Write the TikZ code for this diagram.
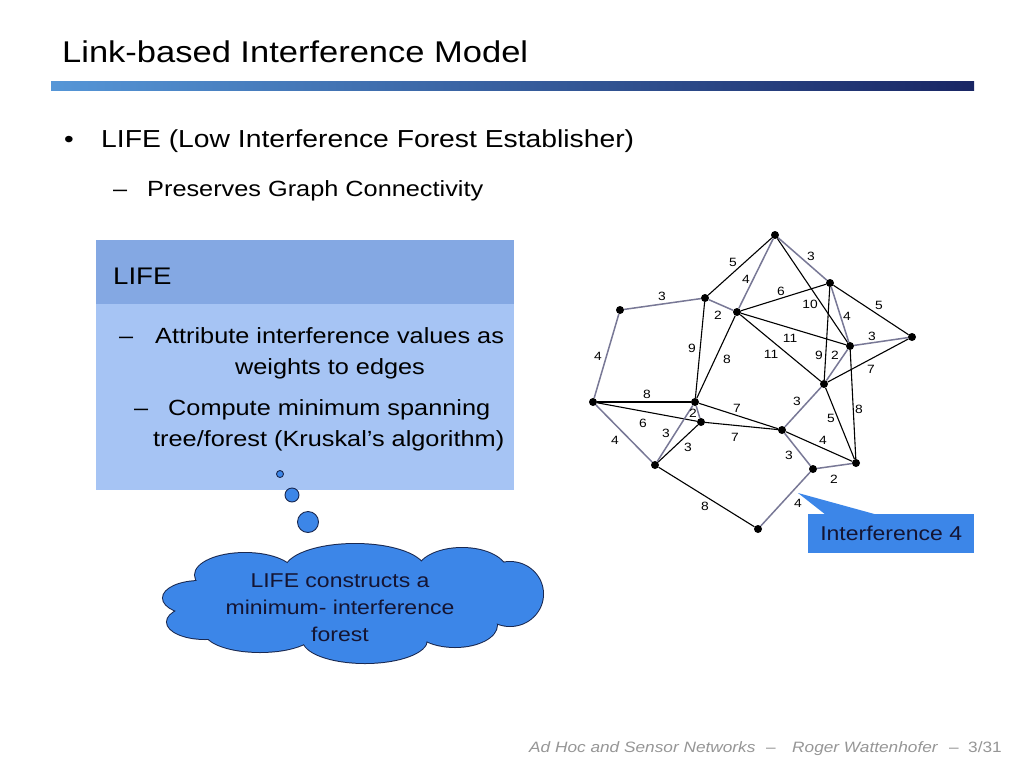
\documentclass[tikz,border=0pt]{standalone}
\usepackage{fontspec}
\setmainfont{Liberation Sans}[FakeStretch=1.15]
\definecolor{barL}{RGB}{85,150,215}
\definecolor{barR}{RGB}{25,38,100}
\definecolor{hdrc}{RGB}{132,168,227}
\definecolor{bodyc}{RGB}{166,196,244}
\definecolor{cloudc}{RGB}{60,134,232}
\definecolor{cloudline}{RGB}{25,40,80}
\definecolor{grayedge}{RGB}{120,120,150}
\definecolor{footc}{RGB}{150,150,150}
\definecolor{txtdark}{RGB}{20,20,50}
\begin{document}
\begin{tikzpicture}[x=1pt,y=-1pt,
  vtx/.style={circle,fill=black,inner sep=0,minimum size=8pt},
  blk/.style={draw=black,line width=1.1pt},
  gry/.style={draw=grayedge,line width=1.5pt},
  wl/.style={font=\fontsize{12}{12}\selectfont,inner sep=0},
  txt/.style={inner sep=0,anchor=base west},
  bubble/.style={circle,draw=cloudline,fill=cloudc,line width=0.9pt,inner sep=0}]
\useasboundingbox (0,0) rectangle (1024,768);
\fill[white] (0,0) rectangle (1024,768);
% title and bar
\node[txt,font=\fontsize{30}{36}\selectfont] (title) at (62,63) {Link-based Interference Model};
\shade[left color=barL,right color=barR] (51,81) rectangle (974,90);
\node[txt,font=\fontsize{24}{28}\selectfont] (bul) at (64,147) {•};
\node[txt,font=\fontsize{24.6}{28}\selectfont] (l1) at (101,147) {LIFE (Low Interference Forest Establisher)};
\node[txt,font=\fontsize{22}{26}\selectfont] (d1) at (113,196) {–};
\node[txt,font=\fontsize{22}{26}\selectfont] (l2) at (147,196) {Preserves Graph Connectivity};
% LIFE box
\node[fill=bodyc,minimum width=418pt,minimum height=250pt,anchor=north west,inner sep=0] (box) at (96,240) {};
\node[fill=hdrc,minimum width=418pt,minimum height=64pt,anchor=north west,inner sep=0] (hdr) at (96,240) {};
\node[txt,font=\fontsize{24}{28}\selectfont] (hl) at (113,284) {LIFE};
\node[txt,font=\fontsize{22}{26}\selectfont] (bd1) at (119,343) {–};
\node[txt,font=\fontsize{22}{26}\selectfont] (bt1) at (155,343) {Attribute interference values as};
\node[inner sep=0,anchor=base,font=\fontsize{22}{26}\selectfont] (bt2) at (330,374) {weights to edges};
\node[txt,font=\fontsize{22}{26}\selectfont] (bd2) at (134,415) {–};
\node[txt,font=\fontsize{22}{26}\selectfont] (bt3) at (168,415) {Compute minimum spanning};
\node[txt,font=\fontsize{22}{26}\selectfont] (bt4) at (153,446) {tree/forest (Kruskal’s algorithm)};
% thought bubbles
\node[bubble,minimum size=7pt] (b1) at (280,474) {};
\node[bubble,minimum size=14pt] (b2) at (292,495) {};
\node[bubble,minimum size=21pt] (b3) at (308,522) {};
% cloud: union of puffs
\def\puffs{245/575/50/22, 355/570/70/26, 462/572/45/24, 510/594/33/32, 455/625/42/22, 365/640/62/23, 260/632/55/20, 205/622/38/17, 200/598/37/17}
\foreach \cx/\cy/\rx/\ry in \puffs
  \draw[draw=cloudline,line width=2pt,fill=cloudc] (\cx,\cy) ellipse [x radius=\rx pt, y radius=\ry pt];
\foreach \cx/\cy/\rx/\ry in \puffs
  \fill[cloudc] (\cx,\cy) ellipse [x radius=\rx pt, y radius=\ry pt];
\fill[cloudc] (350,605) ellipse [x radius=140pt, y radius=35pt];
\node[align=center,text=txtdark,font=\fontsize{20}{27}\selectfont,inner sep=0] (ctext) at (340,608) {LIFE constructs a\\minimum- interference\\forest};
% graph vertices
\node[vtx] (A) at (620,310) {};
\node[vtx] (B) at (705,298) {};
\node[vtx] (C) at (737,312) {};
\node[vtx] (D) at (775,235) {};
\node[vtx] (E) at (830,283) {};
\node[vtx] (F) at (912,337) {};
\node[vtx] (G) at (850,346) {};
\node[vtx] (H) at (824,384) {};
\node[vtx] (I) at (593,402) {};
\node[vtx] (J) at (695,402) {};
\node[vtx] (K) at (701,422) {};
\node[vtx] (L) at (782,430) {};
\node[vtx] (M) at (655,465) {};
\node[vtx] (N) at (856,463) {};
\node[vtx] (O) at (813,469) {};
\node[vtx] (P) at (758,529) {};
% black edges
\draw[blk] (B) -- (D);
\draw[blk] (B) -- (J);
\draw[blk] (C) -- (J);
\draw[blk] (C) -- (E);
\draw[blk] (C) -- (G);
\draw[blk] (C) -- (H);
\draw[blk] (D) -- (G);
\draw[blk] (E) -- (F);
\draw[blk] (E) -- (H);
\draw[blk] (H) -- (F);
\draw[blk] (G) -- (N);
\draw[blk] (H) -- (N);
\draw[blk] (I) -- (J);
\draw[blk] (I) -- (K);
\draw[blk] (K) -- (M);
\draw[blk] (J) -- (L);
\draw[blk] (K) -- (L);
\draw[blk] (L) -- (N);
\draw[blk] (M) -- (P);
% gray edges
\draw[gry] (A) -- (B);
\draw[gry] (A) -- (I);
\draw[gry] (B) -- (C);
\draw[gry] (C) -- (D);
\draw[gry] (D) -- (E);
\draw[gry] (E) -- (G);
\draw[gry] (G) -- (F);
\draw[gry] (G) -- (H);
\draw[gry] (J) -- (K);
\draw[gry] (J) -- (M);
\draw[gry] (I) -- (M);
\draw[gry] (H) -- (L);
\draw[gry] (L) -- (O);
\draw[gry] (O) -- (N);
\draw[gry] (O) -- (P);
% weights
\node[wl] (wAB) at (662,296) {3};
\node[wl] (wAI) at (598,356) {4};
\node[wl] (wBC) at (718,315) {2};
\node[wl] (wBD) at (733,262) {5};
\node[wl] (wCD) at (746,279) {4};
\node[wl] (wBJ) at (692,348) {9};
\node[wl] (wCJ) at (727,359) {8};
\node[wl] (wCE) at (781,291) {6};
\node[wl] (wDE) at (811,256) {3};
\node[wl] (wDG) at (810,304) {10};
\node[wl] (wEG) at (847,316) {4};
\node[wl] (wEF) at (879,305) {5};
\node[wl] (wGF) at (872,336) {3};
\node[wl] (wCG) at (790,338) {11};
\node[wl] (wCH) at (771,354) {11};
\node[wl] (wEH) at (819,355) {9};
\node[wl] (wGH) at (835,355) {2};
\node[wl] (wHF) at (871,369) {7};
\node[wl] (wIJ) at (647,394) {8};
\node[wl] (wIK) at (643,423) {6};
\node[wl] (wJK) at (693,413) {2};
\node[wl] (wJM) at (666,433) {3};
\node[wl] (wKM) at (688,447) {3};
\node[wl] (wIM) at (615,440) {4};
\node[wl] (wJL) at (737,408) {7};
\node[wl] (wKL) at (735,437) {7};
\node[wl] (wHL) at (797,401) {3};
\node[wl] (wHN) at (831,418) {5};
\node[wl] (wGN) at (859,409) {8};
\node[wl] (wLN) at (823,440) {4};
\node[wl] (wLO) at (789,455) {3};
\node[wl] (wON) at (834,479) {2};
\node[wl] (wOP) at (798,503) {4};
\node[wl] (wMP) at (705,506) {8};
% callout
\coordinate (tip) at (798,493);
\fill[cloudc] (826,515) -- (tip) -- (878,515) -- cycle;
\node[fill=cloudc,minimum width=166pt,minimum height=39pt,anchor=north west,inner sep=0,text=txtdark,font=\fontsize{20}{24}\selectfont] (call) at (808,514) {Interference 4};
% footer
\node[txt,text=footc,font=\fontsize{15}{18}\selectfont\itshape] (f1) at (529,752) {Ad Hoc and Sensor Networks};
\node[txt,text=footc,font=\fontsize{15}{18}\selectfont] (f2) at (766,752) {–};
\node[txt,text=footc,font=\fontsize{15}{18}\selectfont\itshape] (f3) at (792,752) {Roger Wattenhofer};
\node[txt,text=footc,font=\fontsize{15}{18}\selectfont] (f4) at (949,752) {–};
\node[inner sep=0,anchor=base east,text=footc,font=\fontsize{15}{18}\selectfont] (f5) at (1002,752) {3/31};
\end{tikzpicture}
\end{document}
